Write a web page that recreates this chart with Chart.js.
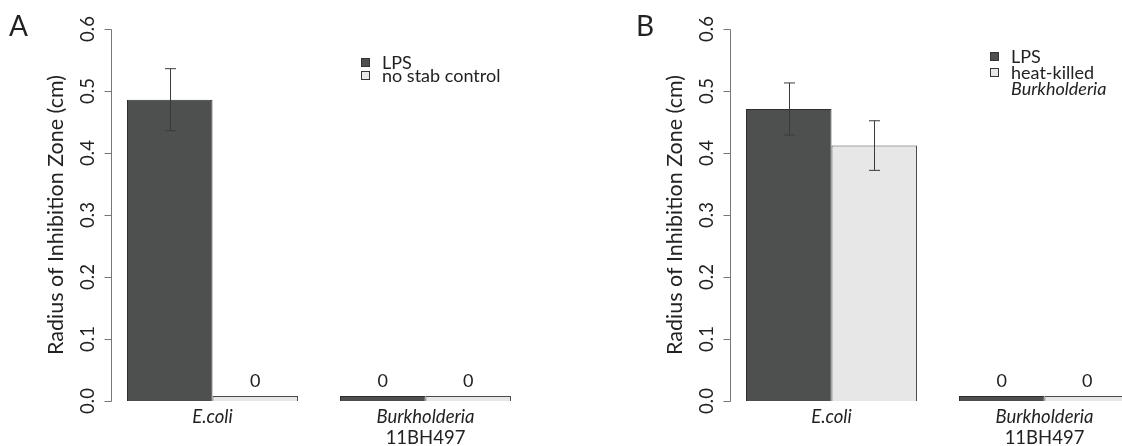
<!DOCTYPE html>
<html>
<head>
<meta charset="utf-8">
<script src="https://cdn.jsdelivr.net/npm/chart.js@4.4.1/dist/chart.umd.min.js"></script>
<style>
    html, body { margin: 0; padding: 0; background: #fff; overflow: hidden; width: 1122px; height: 446px; }
    #panel-a { position: absolute; left: 0; top: 0; }
    #panel-b { position: absolute; left: 619px; top: 0; }
</style>
</head>
<body>
<canvas id="panel-a" width="620" height="446"></canvas>
<canvas id="panel-b" width="620" height="446"></canvas>
<script>
// Data
const categories = ['E.coli', 'Burkholderia 11BH497'];
const categoryLines = [['E.coli'], ['Burkholderia', '11BH497']];
const categoryItalic = [[true], [true, false]];
const yTicks = [0.0, 0.1, 0.2, 0.3, 0.4, 0.5, 0.6];
const yTitle = 'Radius of Inhibition Zone (cm)';

// Panel A
const lpsA = [0.486, 0];
const lpsErrA = [0.05, 0];
const controlA = [0, 0];
const controlErrA = [0, 0];
const legendA = [[['LPS', false]], [['no stab control', false]]];

// Panel B
const lpsB = [0.471, 0];
const lpsErrB = [0.042, 0];
const heatKilledB = [0.412, 0];
const heatKilledErrB = [0.04, 0];
const legendB = [[['LPS', false]], [['heat-killed', false], ['Burkholderia', true]]];

const DARK = '#4d504f';
const LIGHT = '#e6e7e6';
const FONT = 'Lato, "Open Sans", sans-serif';
const TEXT = '#222';

// Plugin untuk sumbu, label, legenda dan error bar gaya R
const rStylePlugin = {
    id: 'rStyle',
    afterDatasetsDraw(chart) {
        const ctx = chart.ctx;
        ctx.save();
        ctx.strokeStyle = '#3a3a3a';
        ctx.lineWidth = 1;
        chart.data.datasets.forEach((ds, di) => {
            const meta = chart.getDatasetMeta(di);
            meta.data.forEach((bar, i) => {
                const err = ds.errors[i];
                if (!err) return;
                const x = Math.round(bar.x) + 0.5;
                const yHi = chart.scales.y.getPixelForValue(ds.data[i] + err);
                const yLo = chart.scales.y.getPixelForValue(ds.data[i] - err);
                ctx.beginPath();
                ctx.moveTo(x, yHi); ctx.lineTo(x, yLo);
                ctx.moveTo(x - 5.5, yHi); ctx.lineTo(x + 5.5, yHi);
                ctx.moveTo(x - 5.5, yLo); ctx.lineTo(x + 5.5, yLo);
                ctx.stroke();
            });
        });
        // label nol di atas batang
        ctx.fillStyle = TEXT;
        ctx.font = '18px ' + FONT;
        ctx.textAlign = 'center';
        ctx.textBaseline = 'middle';
        chart.data.datasets.forEach((ds, di) => {
            const meta = chart.getDatasetMeta(di);
            meta.data.forEach((bar, i) => {
                if (ds.data[i] === 0) ctx.fillText('0', bar.x, bar.y - 15);
            });
        });
        ctx.restore();
    },
    afterDraw(chart) {
        const ctx = chart.ctx;
        const cfg = chart.options.plugins.rStyle;
        const y = chart.scales.y;
        const x = chart.scales.x;
        const area = chart.chartArea;
        const axisX = area.left + 5.5;
        ctx.save();

        // sumbu y
        ctx.strokeStyle = '#777';
        ctx.lineWidth = 1;
        ctx.beginPath();
        ctx.moveTo(axisX, Math.round(y.getPixelForValue(yTicks[0])) + 0.5);
        ctx.lineTo(axisX, Math.round(y.getPixelForValue(yTicks[yTicks.length - 1])) + 0.5);
        yTicks.forEach(v => {
            const py = Math.round(y.getPixelForValue(v)) + 0.5;
            ctx.moveTo(axisX, py);
            ctx.lineTo(axisX - 7, py);
        });
        ctx.stroke();

        ctx.fillStyle = TEXT;
        ctx.font = '18.5px ' + FONT;
        ctx.textAlign = 'center';
        ctx.textBaseline = 'middle';
        yTicks.forEach(v => {
            ctx.save();
            ctx.translate(axisX - 23, y.getPixelForValue(v));
            ctx.rotate(-Math.PI / 2);
            ctx.fillText(v.toFixed(1), 0, 0);
            ctx.restore();
        });

        // judul sumbu y
        ctx.save();
        ctx.font = '21.5px ' + FONT;
        ctx.translate(axisX - 55, (area.top + area.bottom) / 2);
        ctx.rotate(-Math.PI / 2);
        ctx.fillText(yTitle, 0, 0);
        ctx.restore();

        // huruf panel
        ctx.font = '28px ' + FONT;
        ctx.textAlign = 'left';
        ctx.textBaseline = 'alphabetic';
        ctx.fillText(cfg.letter, cfg.letterX, 36);

        // label kategori
        ctx.textAlign = 'center';
        ctx.textBaseline = 'middle';
        categoryLines.forEach((lines, i) => {
            const px = x.getPixelForValue(i);
            lines.forEach((txt, j) => {
                ctx.font = (categoryItalic[i][j] ? 'italic ' : '') + '18.5px ' + FONT;
                ctx.fillText(txt, px, area.bottom + 16 + j * 21);
            });
        });

        // legenda
        ctx.textAlign = 'left';
        let ly = cfg.legendY;
        cfg.legend.forEach((entry, k) => {
            const color = chart.data.datasets[k].backgroundColor;
            ctx.fillStyle = color;
            ctx.strokeStyle = '#333';
            ctx.fillRect(cfg.legendX + 0.5, ly - 4.5, 8, 8);
            ctx.strokeRect(cfg.legendX + 0.5, ly - 4.5, 8, 8);
            ctx.fillStyle = TEXT;
            entry.forEach(([txt, italic], j) => {
                ctx.font = (italic ? 'italic ' : '') + '18px ' + FONT;
                ctx.fillText(txt, cfg.legendX + 21, ly);
                ly += cfg.legendStep;
            });
        });

        ctx.restore();
    }
};

function makePanel(id, seriesNames, values, errors, legend, opts) {
    const ctx = document.getElementById(id).getContext('2d');
    return new Chart(ctx, {
        type: 'bar',
        data: {
            labels: categories,
            datasets: [
                {
                    label: seriesNames[0],
                    data: values[0],
                    errors: errors[0],
                    backgroundColor: DARK,
                    borderColor: '#2e2e2e',
                    borderWidth: 1
                },
                {
                    label: seriesNames[1],
                    data: values[1],
                    errors: errors[1],
                    backgroundColor: LIGHT,
                    borderColor: '#4a4a4a',
                    borderWidth: 1
                }
            ]
        },
        options: {
            responsive: false,
            animation: false,
            layout: {
                padding: { left: 106, right: 88, top: 29, bottom: 45 }
            },
            datasets: {
                bar: {
                    categoryPercentage: 0.803,
                    barPercentage: 1,
                    minBarLength: 5
                }
            },
            scales: {
                x: { display: false },
                y: { display: false, min: 0, max: 0.6 }
            },
            plugins: {
                legend: { display: false },
                tooltip: { enabled: false },
                rStyle: Object.assign({ legend: legend }, opts)
            }
        },
        plugins: [rStylePlugin]
    });
}

document.addEventListener('DOMContentLoaded', function() {
    makePanel('panel-a', ['LPS', 'no stab control'], [lpsA, controlA], [lpsErrA, controlErrA], legendA,
        { letter: 'A', letterX: 9, legendX: 361, legendY: 63, legendStep: 13 });
    makePanel('panel-b', ['LPS', 'heat-killed Burkholderia'], [lpsB, heatKilledB], [lpsErrB, heatKilledErrB], legendB,
        { letter: 'B', letterX: 17, legendX: 371, legendY: 57, legendStep: 16 });
});
</script>
</body>
</html>
